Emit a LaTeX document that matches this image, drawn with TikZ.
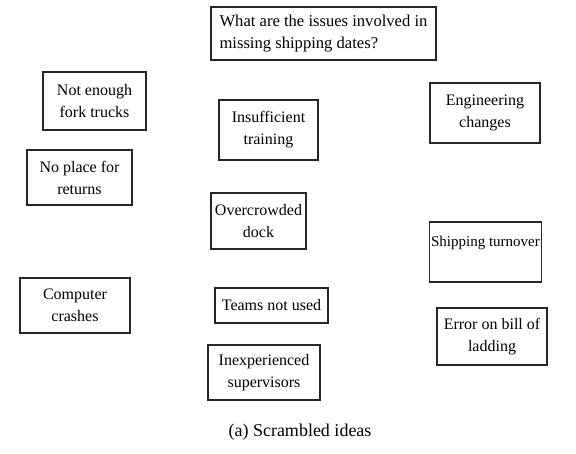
\documentclass[tikz,border=0pt]{standalone}
\usepackage{fontspec}
\setmainfont{Liberation Serif}
\begin{document}
\begin{tikzpicture}[x=1pt,y=-1pt,
  idea/.style={draw=black!85, line width=1.1pt, inner sep=0pt, align=center,
    font=\fontsize{16}{22}\selectfont},
  caption/.style={font=\fontsize{18}{21}\selectfont}]
  \useasboundingbox[fill=white] (0,0) rectangle (576,453);

  % question box
  \node[idea, align=left, font=\fontsize{16.6}{22}\selectfont,
        minimum width=225, minimum height=53] (q) at (323.5,33.5)
    {What are the issues involved in\\missing shipping dates?};

  % scattered idea cards
  \node[idea, minimum width=103, minimum height=58] (fork) at (94.5,101) {Not enough\\fork trucks};
  \node[idea, minimum width=99, minimum height=60] (train) at (268.5,130) {Insufficient\\training};
  \node[idea, minimum width=110, minimum height=60] (eng) at (485,113) {Engineering\\changes};
  \node[idea, minimum width=105, minimum height=55] (ret) at (79.5,177.5) {No place for\\returns};
  \node[idea, minimum width=95, minimum height=56] (dock) at (258.5,221) {Overcrowded\\dock};
  \node[idea, font=\fontsize{15}{22}\selectfont,
        minimum width=112, minimum height=60] (ship) at (485.5,252) {Shipping turnover\\\mbox{}};
  \node[idea, minimum width=110, minimum height=55] (crash) at (75,305.5) {Computer\\crashes};
  \node[idea, minimum width=113, minimum height=35] (teams) at (271.5,305.5) {Teams not used};
  \node[idea, minimum width=110, minimum height=57] (bill) at (492,336.5) {Error on bill of\\ladding};
  \node[idea, minimum width=112, minimum height=55] (sup) at (264,372.5) {Inexperienced\\supervisors};

  \node[caption] (cap) at (300,432) {(a) Scrambled ideas};
\end{tikzpicture}
\end{document}
